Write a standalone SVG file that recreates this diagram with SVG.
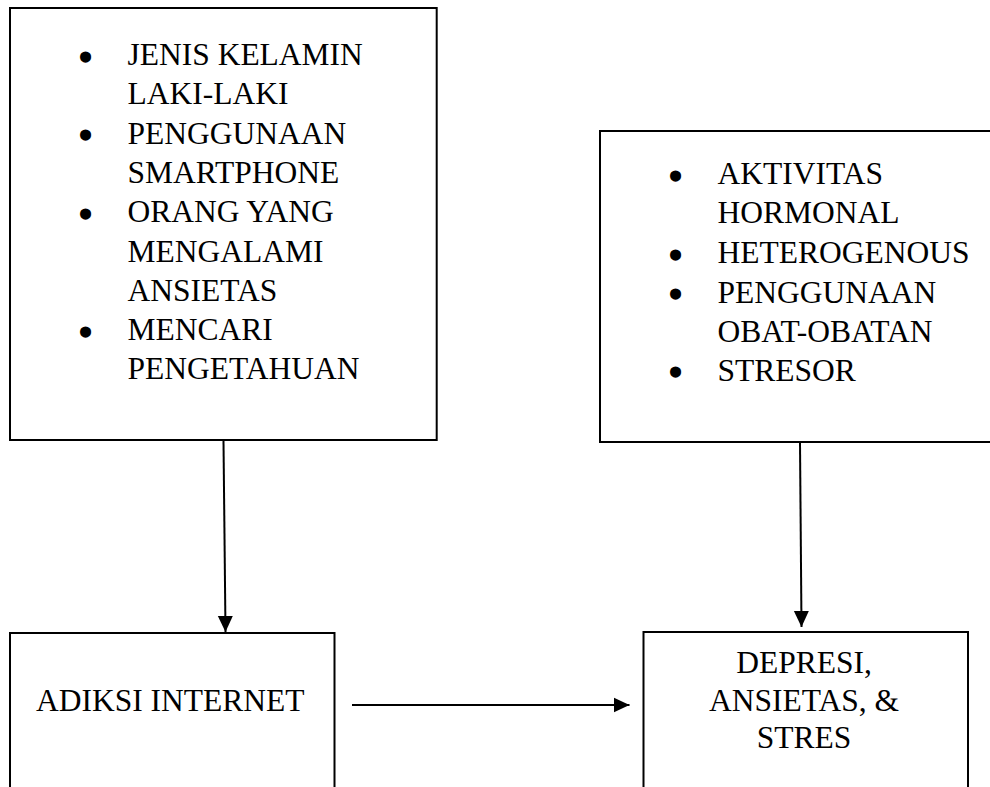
<svg xmlns="http://www.w3.org/2000/svg" width="990" height="787" viewBox="0 0 990 787">
<defs>
<style>
.box{fill:#ffffff;stroke:#000000;stroke-width:2}
text{font-family:'Liberation Serif','Times New Roman',serif;fill:#000000}
.t{font-size:31.5px}
.b{font-size:33px;text-anchor:middle;stroke:#000000;stroke-width:3.2}
.c{text-anchor:middle}
.ln{stroke:#000000;stroke-width:2;fill:none;marker-end:url(#ah)}
</style>
<marker id="ah" viewBox="0 0 16 16" refX="16" refY="8" markerWidth="16" markerHeight="16" markerUnits="userSpaceOnUse" orient="auto">
<path d="M0,0.5 L16,8 L0,15.5 z" fill="#000000"/>
</marker>
</defs>
<rect width="990" height="787" fill="#ffffff"/>
<g id="connectors">
<line class="ln" x1="223.5" y1="441" x2="225.5" y2="632"/>
<line class="ln" x1="800" y1="443" x2="801.5" y2="627"/>
<line class="ln" x1="352" y1="705" x2="629.5" y2="705"/>
</g>
<g id="node-faktor-internet">
<rect class="box" x="10" y="8" width="426.7" height="432"/>
<text class="b" x="85.5" y="68.5">•</text>
<text class="b" x="85.5" y="147.1">•</text>
<text class="b" x="85.5" y="225.7">•</text>
<text class="b" x="85.5" y="343.6">•</text>
<text class="t" x="127.5" y="65">JENIS KELAMIN</text>
<text class="t" x="127.5" y="104.3">LAKI-LAKI</text>
<text class="t" x="127.5" y="143.6">PENGGUNAAN</text>
<text class="t" x="127.5" y="182.9">SMARTPHONE</text>
<text class="t" x="127.5" y="222.2">ORANG YANG</text>
<text class="t" x="127.5" y="261.5">MENGALAMI</text>
<text class="t" x="127.5" y="300.8">ANSIETAS</text>
<text class="t" x="127.5" y="340.1">MENCARI</text>
<text class="t" x="127.5" y="379.4">PENGETAHUAN</text>
</g>
<g id="node-faktor-depresi">
<rect class="box" x="600" y="131" width="400" height="311"/>
<text class="b" x="675.5" y="187.5">•</text>
<text class="b" x="675.5" y="266.8">•</text>
<text class="b" x="675.5" y="306.2">•</text>
<text class="b" x="675.5" y="384.2">•</text>
<text class="t" x="717.5" y="184">AKTIVITAS</text>
<text class="t" x="717.5" y="223.3">HORMONAL</text>
<text class="t" x="717.5" y="263.3">HETEROGENOUS</text>
<text class="t" x="717.5" y="302.7">PENGGUNAAN</text>
<text class="t" x="717.5" y="341.7">OBAT-OBATAN</text>
<text class="t" x="717.5" y="380.7">STRESOR</text>
</g>
<g id="node-adiksi">
<rect class="box" x="10" y="633" width="324.5" height="200"/>
<text class="t" x="36" y="711">ADIKSI INTERNET</text>
</g>
<g id="node-depresi">
<rect class="box" x="643.5" y="632" width="324.5" height="200"/>
<text class="t c" x="804" y="672.7">DEPRESI,</text>
<text class="t c" x="804" y="710.5">ANSIETAS, &amp;</text>
<text class="t c" x="804" y="748.3">STRES</text>
</g>
</svg>
